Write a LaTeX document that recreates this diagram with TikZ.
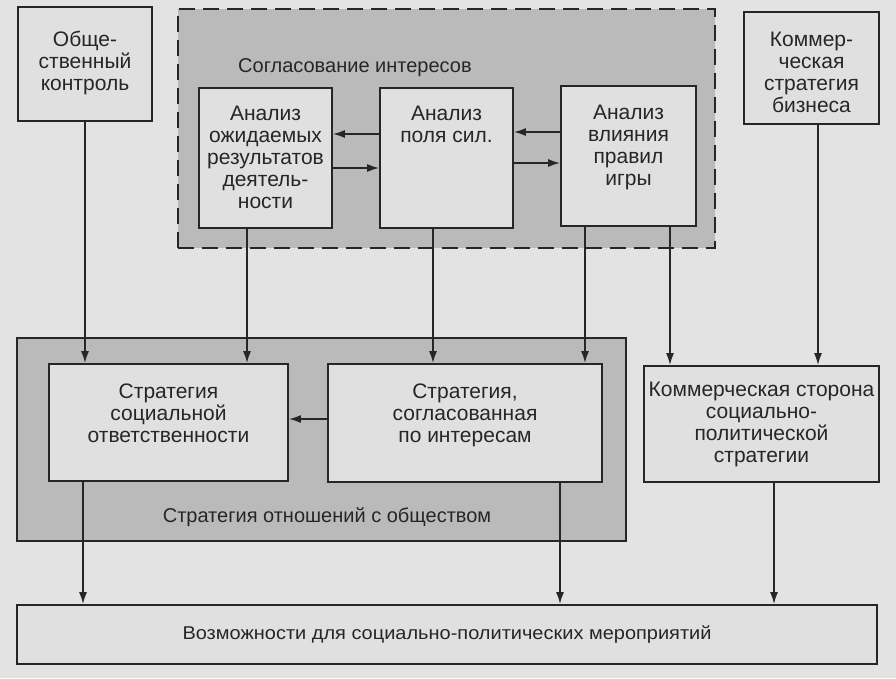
\documentclass[tikz,border=0pt]{standalone}
\usepackage{fontspec}
\setmainfont{Liberation Sans}
\usetikzlibrary{arrows.meta}
\definecolor{paper}{HTML}{E3E3E3}
\definecolor{shade}{HTML}{BABABA}
\definecolor{boxfill}{HTML}{E0E0E0}
\definecolor{ink}{HTML}{262626}
\tikzset{
  box/.style={draw=ink, line width=1.8pt, fill=boxfill, inner sep=0pt},
  region/.style={draw=ink, line width=1.8pt, fill=shade, inner sep=0pt},
  txt/.style={text=ink, align=center, font=\fontsize{21}{22}\selectfont, inner sep=0pt},
  lbl/.style={text=ink, align=center, font=\fontsize{20}{22}\selectfont, inner sep=0pt},
  arr/.style={draw=ink, line width=1.6pt, -{Latex[length=12pt,width=8pt]}},
}
\begin{document}
\begin{tikzpicture}[x=1pt, y=-1pt]
\fill[paper] (0,0) rectangle (896,678);
\useasboundingbox (0,0) rectangle (896,678);

% regions
\node[region, dash pattern=on 16pt off 8pt, minimum width=537pt, minimum height=239pt] (sog) at (446.5,128.5) {};
\node[region, minimum width=609pt, minimum height=203pt] (sob) at (321.5,439.5) {};

% boxes
\node[box, minimum width=134pt, minimum height=114pt] (ok) at (85,64) {};
\node[box, minimum width=135pt, minimum height=112pt] (kom) at (811.5,68) {};
\node[box, minimum width=133pt, minimum height=140pt] (a1) at (265.5,158) {};
\node[box, minimum width=133pt, minimum height=140pt] (a2) at (446.5,158) {};
\node[box, minimum width=135pt, minimum height=140pt] (a3) at (628.5,156) {};
\node[box, minimum width=239pt, minimum height=117pt] (sso) at (168.5,422.5) {};
\node[box, minimum width=274pt, minimum height=118pt] (sp) at (465,423) {};
\node[box, minimum width=235pt, minimum height=116pt] (ks) at (761.5,424) {};
\node[box, minimum width=860pt, minimum height=59pt] (bt) at (447,634.5) {};

% texts
\node[txt] (okt) at (85,63) {Обще-\\ственный\\контроль};
\node[txt] (komt) at (811.5,72) {Коммер-\\ческая\\стратегия\\бизнеса};
\node[txt] (a1t) at (265.5,157) {Анализ\\ожидаемых\\результатов\\деятель-\\ности};
\node[txt] (a2t) at (446.5,124) {Анализ\\поля сил.};
\node[txt] (a3t) at (628.5,147) {Анализ\\влияния\\правил\\игры};
\node[txt] (ssot) at (168.5,413) {Стратегия\\социальной\\ответственности};
\node[txt] (spt) at (465,415) {Стратегия,\\согласованная\\по интересам};
\node[txt] (kst) at (761.5,424) {Коммерческая сторона\\социально-\\политической\\стратегии};
\node[lbl, anchor=west] (sogt) at (238,68) {Согласование интересов};
\node[lbl] (sobt) at (327,517) {Стратегия отношений с обществом};
\node[text=ink, inner sep=0pt, font=\fontsize{18.5}{22}\selectfont] (btt) at (447,635) {\scalebox{1.08}[1]{Возможности для социально-политических мероприятий}};

% column coordinates
\coordinate (c1) at (85,0);
\coordinate (c2) at (247,0);
\coordinate (c3) at (433,0);
\coordinate (c4) at (585,0);
\coordinate (c5) at (670,0);
\coordinate (c6) at (818,0);
\coordinate (d1) at (83,0);
\coordinate (d2) at (560,0);
\coordinate (d3) at (774,0);
\coordinate (r1) at (0,134);
\coordinate (r2) at (0,168);
\coordinate (r3) at (0,132);
\coordinate (r4) at (0,163);
\coordinate (r5) at (0,419);

% vertical connectors
\draw[arr] (ok.south -| c1) -- (sso.north -| c1);
\draw[arr] (a1.south -| c2) -- (sso.north -| c2);
\draw[arr] (a2.south -| c3) -- (sp.north -| c3);
\draw[arr] (a3.south -| c4) -- (sp.north -| c4);
\draw[arr] (a3.south -| c5) -- (ks.north -| c5);
\draw[arr] (kom.south -| c6) -- (ks.north -| c6);
\draw[arr] (sso.south -| d1) -- (bt.north -| d1);
\draw[arr] (sp.south -| d2) -- (bt.north -| d2);
\draw[arr] (ks.south -| d3) -- (bt.north -| d3);

% horizontal connectors
\draw[arr] (a2.west |- r1) -- (a1.east |- r1);
\draw[arr] (a1.east |- r2) -- (a2.west |- r2);
\draw[arr] (a3.west |- r3) -- (a2.east |- r3);
\draw[arr] (a2.east |- r4) -- (a3.west |- r4);
\draw[arr] (sp.west |- r5) -- (sso.east |- r5);
\end{tikzpicture}
\end{document}
